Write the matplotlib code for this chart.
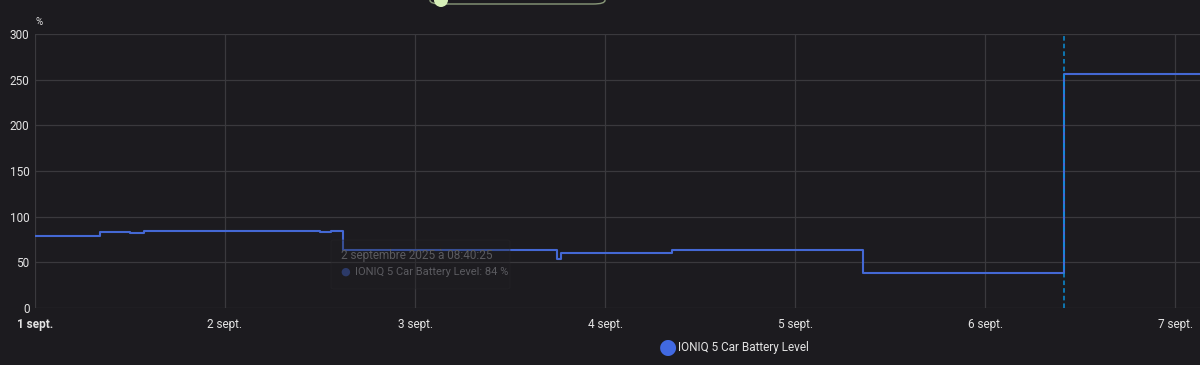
import matplotlib.pyplot as plt
from matplotlib.patches import FancyBboxPatch, Ellipse

# Battery level history (x = days since 1 sept. 00:00)
times = [0.0, 0.342, 0.50, 0.568, 0.574, 1.36, 1.42, 1.50, 1.56, 1.621,
         2.747, 2.768, 3.35, 4.358, 5.416, 6.3]
levels = [79, 83, 82.5, 82, 84, 84, 84.5, 83.5, 84, 63,
          54, 60, 63, 38, 256, 256]

tick_days = [0, 1, 2, 3, 4, 5, 6]
tick_labels = ["1 sept.", "2 sept.", "3 sept.", "4 sept.", "5 sept.", "6 sept.", "7 sept."]
y_ticks = [0, 50, 100, 150, 200, 250, 300]
cursor_day = 5.416

BG = "#1c1b1f"
GRID = "#3a393d"
LINE = "#4468d4"
TXT = "#e3e3e3"

plt.rcParams['font.family'] = ['Roboto', 'DejaVu Sans']

fig = plt.figure(figsize=(12, 3.65), dpi=100, facecolor=BG)
ax = fig.add_axes([35 / 1200, 1 - 308 / 365, 1 - 35 / 1200, (308 - 34) / 365])
ax.set_facecolor(BG)

ax.step(times, levels, where='post', color=LINE, lw=1.5, zorder=3)
ax.axvline(cursor_day, color="#0a8fd8", lw=1.1, ls=(0, (3, 2)), zorder=4)

ax.set_xlim(0, 6.13)
ax.set_ylim(0, 300)
ax.set_xticks(tick_days)
ax.set_xticklabels(tick_labels)
ax.set_yticks(y_ticks)
ax.grid(True, color=GRID, lw=0.9)
ax.set_axisbelow(True)
for s in ax.spines.values():
    s.set_visible(False)
ax.tick_params(length=0, colors=TXT, labelsize=8.5)
ax.tick_params(axis='x', pad=7)
ax.tick_params(axis='y', pad=4)
ax.get_xticklabels()[0].set_fontweight('bold')

fig.text(36 / 1200, 1 - 22 / 365, "%", color=TXT, fontsize=7, ha='left', va='center')

# faded tooltip (line shows through it)
box = FancyBboxPatch((331 / 1200, 1 - 289 / 365), 179 / 1200, 49 / 365,
                     boxstyle="round,pad=0,rounding_size=0.004",
                     transform=fig.transFigure, facecolor="#1f1e22",
                     edgecolor="#2b2a2e", lw=0.8, alpha=0.35, zorder=5)
fig.patches.append(box)
fig.text(341 / 1200, 1 - 256 / 365, "2 septembre 2025 à 08:40:25",
         color="#5b5b60", fontsize=8.5, va='center', zorder=6)
fig.text(345 / 1200, 1 - 272 / 365, "●", color="#2c3a68", fontsize=8,
         ha='center', va='center', zorder=6)
fig.text(355 / 1200, 1 - 272 / 365, "IONIQ 5 Car Battery Level: 84 %",
         color="#5b5b60", fontsize=8, va='center', zorder=6)

# partial pill control at top
pill = FancyBboxPatch((430 / 1200, 1 - 4 / 365), 175 / 1200, 14 / 365,
                      boxstyle="round,pad=0,rounding_size=0.01",
                      transform=fig.transFigure, facecolor=BG,
                      edgecolor="#8a9a7a", lw=1.0, clip_on=False)
fig.patches.append(pill)
knob = Ellipse((441 / 1200, 1 - 0 / 365), 14 / 1200, 14 / 365,
               transform=fig.transFigure, facecolor="#d6efb8", edgecolor='none')
fig.patches.append(knob)

# legend
fig.text(668 / 1200, 1 - 347 / 365, "●", color="#4169e1", fontsize=15,
         ha='center', va='center')
fig.text(678 / 1200, 1 - 347 / 365, "IONIQ 5 Car Battery Level", color=TXT,
         fontsize=8.5, ha='left', va='center')

fig.savefig("out.png", dpi=100, facecolor=BG)
